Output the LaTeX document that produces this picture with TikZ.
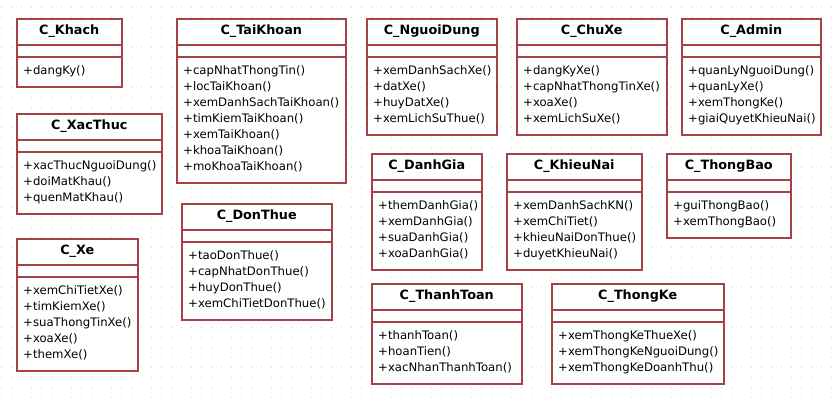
\documentclass[tikz,border=0pt]{standalone}
\usepackage{fontspec}
\setmainfont{DejaVu Sans}
\usetikzlibrary{calc}

\definecolor{classred}{RGB}{165,65,70}
\definecolor{griddot}{RGB}{205,205,205}

\tikzset{
  classbox/.style={draw=classred, line width=1.5pt, fill=white, inner sep=0pt, anchor=north west},
  classline/.style={draw=classred, line width=1.5pt},
  classname/.style={font=\fontsize{12.8}{14}\selectfont\bfseries, inner sep=0pt},
  method/.style={font=\fontsize{11.7}{14}\selectfont, inner sep=0pt, anchor=base west}
}

% #1 name, #2 x, #3 y, #4 width, #5 number of methods, #6 title, #7 methods
\newcommand{\umlclass}[7]{%
  \node[classbox, minimum width=#4pt, minimum height={(52+16*#5)*1pt}] (#1) at (#2,-#3) {};
  \node[classname] (#1-name) at ($(#1.north)+(0,-13.5)$) {#6};
  \draw[classline] ($(#1.north west)+(0,-27)$) -- ($(#1.north east)+(0,-27)$);
  \draw[classline] ($(#1.north west)+(0,-39)$) -- ($(#1.north east)+(0,-39)$);
  \foreach \m [count=\i] in {#7}
    \node[method] (#1-m\i) at ($(#1.north west)+(7,{-56-16*(\i-1)})$) {\m};
}

\begin{document}
\begin{tikzpicture}[x=1pt,y=1pt]
        \useasboundingbox (0,0) rectangle (835,-400);
        \fill[white] (0,0) rectangle (835,-400);
        % dotted grid
        \foreach \x in {1,11,...,831}
          \foreach \y in {7,17,...,397}
            \fill[griddot] (\x,-\y) rectangle ++(1.3,-1.3);

        \umlclass{khach}{16}{18}{105}{1}{C\_Khach}{+dangKy()}
        \umlclass{taikhoan}{176}{18}{169}{7}{C\_TaiKhoan}{+capNhatThongTin(),+locTaiKhoan(),+xemDanhSachTaiKhoan(),+timKiemTaiKhoan(),+xemTaiKhoan(),+khoaTaiKhoan(),+moKhoaTaiKhoan()}
        \umlclass{xacthuc}{16}{113}{145}{3}{C\_XacThuc}{+xacThucNguoiDung(),+doiMatKhau(),+quenMatKhau()}
        \umlclass{xe}{16}{238}{121}{5}{C\_Xe}{+xemChiTietXe(),+timKiemXe(),+suaThongTinXe(),+xoaXe(),+themXe()}
        \umlclass{donthue}{181}{203}{150}{4}{C\_DonThue}{+taoDonThue(),+capNhatDonThue(),+huyDonThue(),+xemChiTietDonThue()}
        \umlclass{nguoidung}{366}{18}{130}{4}{C\_NguoiDung}{+xemDanhSachXe(),+datXe(),+huyDatXe(),+xemLichSuThue()}
        \umlclass{chuxe}{516}{18}{150}{4}{C\_ChuXe}{+dangKyXe(),+capNhatThongTinXe(),+xoaXe(),+xemLichSuXe()}
        \umlclass{admin}{681}{18}{139}{4}{C\_Admin}{+quanLyNguoiDung(),+quanLyXe(),+xemThongKe(),+giaiQuyetKhieuNai()}
        \umlclass{danhgia}{371}{153}{110}{4}{C\_DanhGia}{+themDanhGia(),+xemDanhGia(),+suaDanhGia(),+xoaDanhGia()}
        \umlclass{khieunai}{506}{153}{135}{4}{C\_KhieuNai}{+xemDanhSachKN(),+xemChiTiet(),+khieuNaiDonThue(),+duyetKhieuNai()}
        \umlclass{thongbao}{666}{153}{124}{2}{C\_ThongBao}{+guiThongBao(),+xemThongBao()}
        \umlclass{thanhtoan}{371}{283}{150}{3}{C\_ThanhToan}{+thanhToan(),+hoanTien(),+xacNhanThanhToan()}
        \umlclass{thongke}{551}{283}{172}{3}{C\_ThongKe}{+xemThongKeThueXe(),+xemThongKeNguoiDung(),+xemThongKeDoanhThu()}
\end{tikzpicture}
\end{document}
